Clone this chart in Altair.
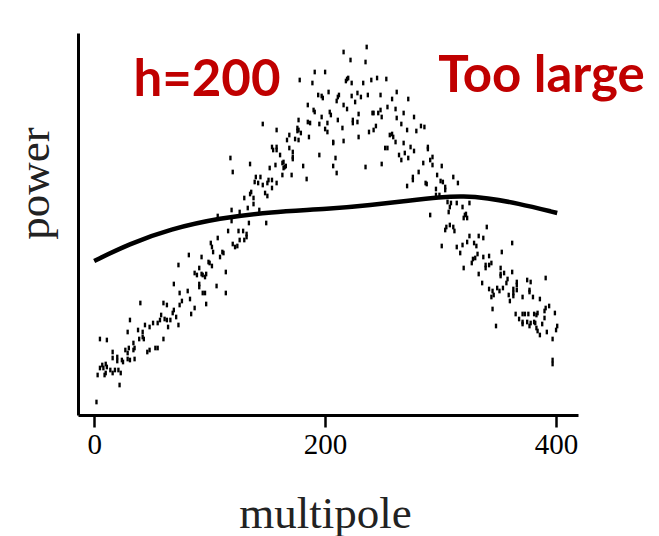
import altair as alt
import pandas as pd

dots_rise_low = [
    (69,131),(74,122),(81,124),(40,112),(60,112),(63,110),(76,114),(74,110),(69,105),(68,102),
    (71,98),(58,100),(57,95),(61,96),(63,95),(66,95),(55,92),(31,95),(64,88),(73,90),
    (51,92),(48,88),(44,90),(38,85),(42,83),(29,83),(42,78),(39,76),(60,76),(43,76),
    (34,72),(5,76),(11,75),(30,67),(34,65),(35,67),(27,65),(29,62),(16,63),(46,63),
    (48,65),(53,67),(55,67),(16,57),(20,58),(20,54),(24,55),(25,53),(29,56),(31,55),
    (35,56),(7,50),(10,51),(5,47),(8,47),(11,48),(14,45),(3,40),(9,40),(10,42),
    (16,42),(18,45),(21,45),(23,42),(22,30),(2,13),
]
dots_rise_mid = [
    (118,257),(135,251),(120,243),(152,247),(140,238),(144,238),(139,233),(142,232),(146,230),(151,235),
    (150,232),(136,223),(135,221),(130,217),(138,217),(148,222),(150,219),(133,207),(138,211),(119,205),
    (126,203),(143,205),(107,199),(119,194),(134,192),(149,192),(116,184),(125,184),(129,184),(132,181),
    (132,178),(107,177),(126,175),(130,175),(120,171),(122,168),(124,169),(101,172),(102,168),(103,163),
    (111,163),(112,162),(109,158),(82,160),(93,158),(99,153),(100,152),(102,149),(73,150),(114,143),
    (91,147),(87,142),(89,140),(93,141),(94,140),(97,141),(96,138),(91,131),(91,128),(106,129),
    (94,122),(96,122),(114,122),(83,116),(87,107),(97,111),(84,101),
]
dots_peak_left = [
    (191,343),(200,343),(178,335),(189,332),(203,323),(194,320),(197,319),(198,317),(185,310),(190,305),
    (191,303),(204,303),(205,300),(197,298),(177,295),(211,295),(185,293),(187,292),(195,291),(202,292),
    (146,291),(176,287),(176,284),(177,285),(179,282),(158,285),(200,286),(202,283),(169,280),(167,275),
    (186,278),(174,276),(177,275),(207,273),(207,272),(154,268),(155,265),(158,268),(158,265),(169,267),
    (172,263),(161,260),(195,260),(172,258),(172,256),(209,257),(164,253),(163,252),(157,250),(181,249),
    (207,249),(165,248),(164,247),(166,249),(210,242),(163,240),(171,240),(154,235),(184,236),(158,232),
    (154,227),
]
dots_peak_right = [
    (236,368),(216,363),(222,355),(235,353),(219,336),(220,337),(218,334),(223,332),(233,332),(240,335),
    (245,337),(253,336),(262,323),(212,320),(211,318),(210,314),(223,319),(228,322),(226,313),(231,318),
    (237,320),(248,320),(258,316),(272,316),(216,310),(219,306),(254,308),(261,306),(241,302),(242,302),
    (246,302),(248,305),(249,298),(268,302),(229,301),(277,298),(224,295),(224,292),(228,293),(262,297),
    (266,291),(244,289),(242,285),(215,287),(271,285),(279,284),(238,283),(256,280),(259,278),(258,281),
    (229,278),(261,273),(216,274),(268,272),(252,267),(254,267),(274,268),(277,264),(269,262),(264,260),
    (266,255),(272,257),(249,251),(235,248),(281,243),(276,238),(276,235),(271,229),
]
dots_fall_upper = [
    (283,289),(286,288),(289,268),(289,266),(293,258),(291,255),(285,252),(293,250),(301,249),(297,240),
    (287,232),(288,231),(300,234),(302,233),(311,238),(315,232),(304,228),(304,225),(296,226),(296,220),
    (299,220),(306,213),(309,212),(308,208),(314,212),(307,203),(291,200),(308,190),(311,188),(312,184),
    (304,185),(305,188),(301,169),(314,168),
]
dots_fall_lower = [
    (325,212),(319,208),(321,200),(320,197),(323,197),(322,201),(340,188),(325,179),(329,172),(331,169),
    (323,173),(319,170),(333,179),(337,177),(362,172),(353,163),(317,162),(332,161),(328,156),(330,157),
    (327,152),(337,158),(342,159),(344,152),(342,150),(339,150),(339,147),(320,147),(333,141),(352,147),
    (352,141),(352,139),(355,142),(362,143),(336,132),(358,136),(357,132),(354,127),(366,133),(366,130),
    (375,135),(378,133),(391,137),(349,127),(342,126),(345,124),(351,124),(363,126),(363,122),(366,125),
    (377,125),(377,123),(359,120),(346,120),(344,118),(363,119),(371,118),(380,118),(386,116),(360,114),
    (394,109),(391,107),(390,104),(399,102),(345,106),(365,101),(371,101),(373,101),(376,101),(381,101),
    (383,100),(384,102),(368,96),(371,93),(371,91),(390,97),(375,93),(378,92),(382,92),(381,93),
    (377,89),(388,91),(348,89),(383,87),(384,84),(401,89),(400,85),(392,83),(386,80),(397,76),
    (397,55),(397,51),
]

# smoothed fit (h=200)
smooth_multipole = [0, 30, 66, 109, 152, 204, 240, 270, 300, 320, 340, 366, 401]
smooth_power = [154, 171, 186, 197, 203, 206, 210, 214, 218, 219, 217, 212, 202]

x_ticks = [0, 200, 400]

note_text = ["h=200", "Too large"]
note_multipole = [34, 298]
note_power = [319, 323]

all_dots = (dots_rise_low + dots_rise_mid + dots_peak_left + dots_peak_right
            + dots_fall_upper + dots_fall_lower)
dots_df = pd.DataFrame(all_dots, columns=["multipole", "power"])
line_df = pd.DataFrame({"multipole": smooth_multipole, "power": smooth_power})
note_df = pd.DataFrame({"multipole": note_multipole, "power": note_power, "label": note_text})

xs = alt.Scale(domain=[-14, 419], nice=False, zero=False)
ys = alt.Scale(domain=[0, 382], nice=False, zero=False)

X = alt.X("multipole:Q", scale=xs, title="multipole", axis=alt.Axis(values=x_ticks))
Y = alt.Y("power:Q", scale=ys, title="power")

points = alt.Chart(dots_df).mark_point(
    shape="M-0.5,-1H0.5V1H-0.5Z", filled=True, size=22, color="black", opacity=1
).encode(x=X, y=Y)

curve = alt.Chart(line_df).mark_line(
    color="black", strokeWidth=4.5, interpolate="basis"
).encode(x=X, y=Y)

notes = alt.Chart(note_df).mark_text(
    font="Lato", fontWeight="bold", fontSize=51, color="#C00000",
    align="left", baseline="alphabetic"
).encode(x=X, y=Y, text="label:N")

chart = alt.layer(points, curve, notes).properties(
    width=500, height=382,
    padding={"left": 78, "top": 33, "right": 81, "bottom": 121},
    autosize="none",
).configure_view(strokeWidth=0).configure_axis(
    grid=False,
    domainColor="black",
    domainWidth=3,
    labelFont="Liberation Serif",
    labelColor="black",
    titleFont="Liberation Serif",
    titleFontWeight="normal",
    titleColor="#222222",
    titleFontSize=45,
).configure_axisX(
    tickColor="black",
    tickSize=12,
    tickWidth=2.5,
    labelFontSize=29,
    labelPadding=3,
    titleX=247,
    titleY=112,
    titleBaseline="alphabetic",
    titleAlign="center",
).configure_axisY(
    labels=False,
    ticks=False,
    titleAngle=270,
    titleX=-44,
    titleY=150,
    titleBaseline="middle",
    titleAlign="center",
)

chart.save("out.html", embed_options={"renderer": "svg", "actions": False})
